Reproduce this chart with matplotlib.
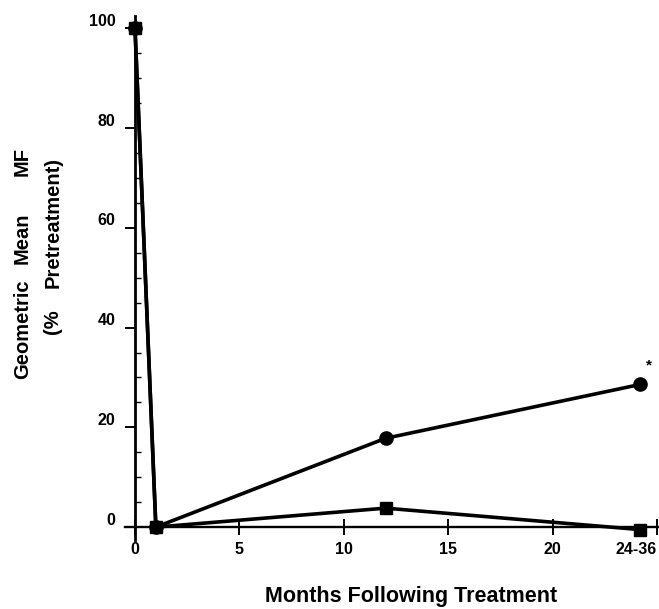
import matplotlib
matplotlib.use("Agg")
import matplotlib.pyplot as plt
from matplotlib.ticker import MultipleLocator, FixedLocator
import matplotlib.transforms as mtransforms

plt.rcParams['font.family'] = ['Liberation Sans', 'DejaVu Sans']
plt.rcParams['font.weight'] = 'bold'

# data
months = [0, 1, 12, 24.2]
mf_circle = [100, 0, 17.8, 28.6]
mf_square = [100, 0, 3.8, -0.5]

xtick_pos = [0, 5, 10, 15, 20, 25]
xtick_labels = ['0', '5', '10', '15', '20', '24-36']
ytick_pos = [0, 20, 40, 60, 80, 100]

fig = plt.figure(figsize=(6.59, 6.09), dpi=100)
ax = fig.add_axes([0.189, 0.114, 0.811, 0.860])

ax.plot(months, mf_circle, color='black', lw=2.6, marker='o',
        markersize=9.5, zorder=3)
ax.plot(months, mf_square, color='black', lw=2.6, marker='s',
        markersize=9, zorder=3)
ax.text(24.6, 32.5, '*', fontsize=11, fontweight='bold', ha='center', va='center')

ax.set_xlim(-0.5, 25.1)
ax.set_ylim(-2.5, 102.5)

for s in ['top', 'right']:
    ax.spines[s].set_visible(False)
ax.spines['left'].set_position(('data', 0))
ax.spines['bottom'].set_position(('data', 0))
ax.spines['left'].set_linewidth(2.0)
ax.spines['bottom'].set_linewidth(1.7)

ax.xaxis.set_major_locator(FixedLocator(xtick_pos))
ax.set_xticklabels(xtick_labels)
ax.yaxis.set_major_locator(FixedLocator(ytick_pos))
ax.yaxis.set_minor_locator(MultipleLocator(5))

ax.tick_params(axis='x', which='major', direction='inout', length=12, width=1.4,
               labelsize=11.5, pad=5)
ax.tick_params(axis='y', which='major', direction='out', length=7, width=1.4,
               labelsize=11.5, pad=7)
ax.tick_params(axis='y', which='minor', direction='in', length=4, width=1)
for lab in ax.get_xticklabels() + ax.get_yticklabels():
    lab.set_fontweight('bold')
ax.get_xticklabels()[-1].set_horizontalalignment('right')
# y labels sit a bit high in the original
shift = mtransforms.ScaledTranslation(0, 6 / 72, fig.dpi_scale_trans)
for lab in ax.get_yticklabels():
    lab.set_transform(lab.get_transform() + shift)

fig.text(0.624, 0.02, 'Months Following Treatment', fontsize=15.5, fontweight='bold',
         ha='center', va='center')

# y label: two lines with wide word spacing, placed word by word
ylab1 = [('Geometric', 329), ('Mean', 238), ('MF', 162)]
ylab2 = [('Pretreatment)', 222), ('(%', 322)]
for word, ypx in ylab1:
    fig.text(0.034, 1 - ypx / 609, word, fontsize=14.5, fontweight='bold',
             rotation=90, ha='center', va='center')
for word, ypx in ylab2:
    fig.text(0.080, 1 - ypx / 609, word, fontsize=14.5, fontweight='bold',
             rotation=90, ha='center', va='center')

fig.savefig('out.png', dpi=100)
